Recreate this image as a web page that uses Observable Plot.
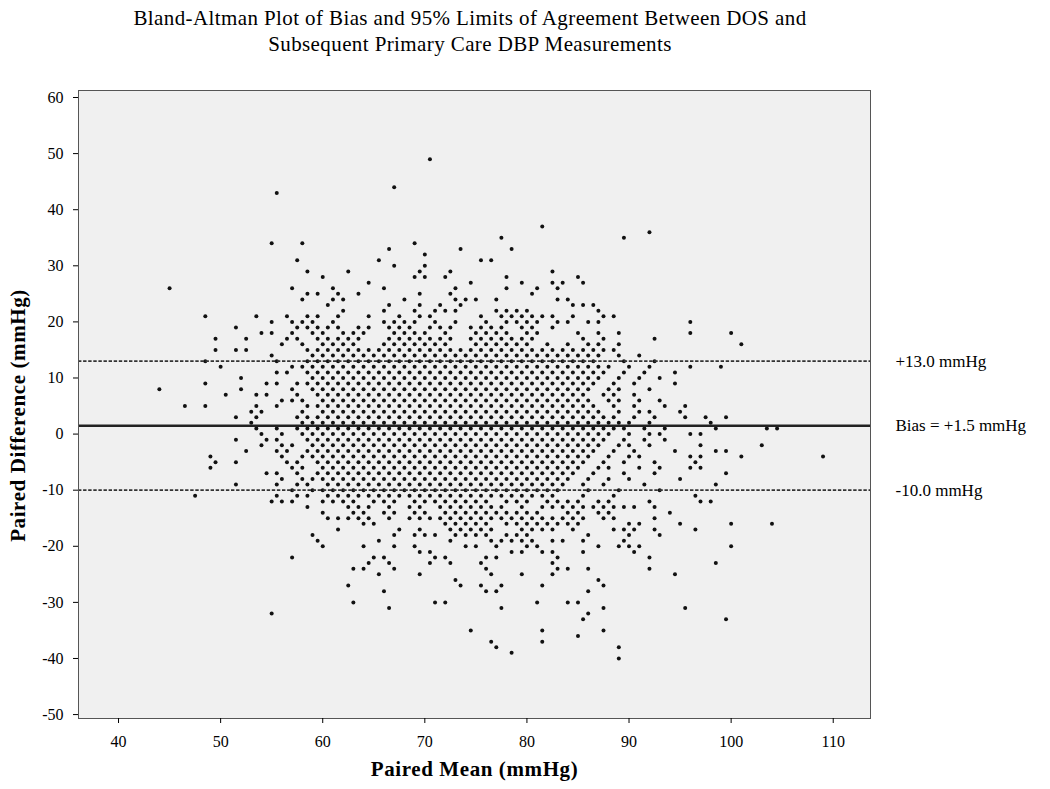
<!DOCTYPE html>
<html><head><meta charset="utf-8">
<script src="https://cdn.jsdelivr.net/npm/d3@7"></script>
<script src="https://cdn.jsdelivr.net/npm/@observablehq/plot@0.6"></script>
<style>
body{margin:0;background:#fff;}
#wrap{position:relative;width:1050px;height:789px;overflow:hidden;}
#title{position:absolute;left:0;top:0;width:940px;text-align:center;font-family:"Liberation Serif","Times New Roman",serif;font-size:21px;letter-spacing:0.4px;line-height:26px;color:#000;padding-top:5px;}
#chart{position:absolute;left:0;top:70px;}
</style></head><body>
<div id="wrap">
<div id="title">Bland-Altman Plot of Bias and 95% Limits of Agreement Between DOS and<br>Subsequent Primary Care DBP Measurements</div>
<div id="chart"></div>
</div>
<script>
// Tick values
const xTicks = [40, 50, 60, 70, 80, 90, 100, 110];
const yTicks = [60, 50, 40, 30, 20, 10, 0, -10, -20, -30, -40, -50];
// Reference lines
const limitValues = [13.0, 1.5, -10.0];
const limitLabels = ["+13.0 mmHg", "Bias = +1.5 mmHg", "-10.0 mmHg"];
// Paired difference of each row of dots (mmHg)
const rowDiff = [49,48,47,46,45,44,43,42,41,40,39,38,37,36,35,34,33,32,31,30,
  29,28,27,26,25,24,23,22,21,20,19,18,17,16,15,14,13,12,11,10,9,8,7,6,5,4,3,2,1,0,
  -1,-2,-3,-4,-5,-6,-7,-8,-9,-10,-11,-12,-13,-14,-15,-16,-17,-18,-19,-20,
  -21,-22,-23,-24,-25,-26,-27,-28,-29,-30,-31,-32,-33,-34,-35,-36,-37,-38,-39,-40];
// For each row: "#" marks a dot at paired mean 40,41,42,... (+0.5 when the difference is odd)
const rowMask = [
".......... .......... .......... #",
"", "", "", "",
".......... .......... .......#",
".......... .....#",
"", "", "", "", "",
".......... .......... .......... .......... .#",
".......... .......... .......... .......... .......... ..#",
".......... .......... .......... .......#.. .........#",
".......... .....#..#. .........#",
".......... .......... ......#... ...#....#.",
".......... .......... .......... #",
".......... .......#.. .....#.... .....##",
".......... .......... .......#.. #",
".......... ........#. ..#......# ..#....... ..#",
".......... .......... #........# #.#.....#. .....#",
".......... .......... ....#..... ....#....# ..##.#",
".....#.... .......#.. .#....#... ...#....#. .#.#",
".......... ........## .#.#.....# ..#....... #",
".......... ........#. .##.....#. ...###.#.. ...##",
".......... .......... #.....#..# .#.#...... ....###",
".......... .......... ..#...#..# .###...### #......#",
"........#. ...#..#.## .#..#..#.# #....#.### ###.#..##",
".......... .....#.### .#....#### .#.#..#.## ##.##.##.. ......#",
".......... .#.....### ##.##.###. ###.####.# #.#",
".......... ....##.#.# #.###..### #.#..####. ##...#.#.# ......#... #",
".........# ..#...##.# ####..#### ###.###### #....#.#.. ..#",
".......... ......#.#. ####..#### ###..##### #.#.#.##.# .......... .#",
".........# .##.....## ########## ########## #########",
".......... .....#...# ########## ########## ########.# .#",
"........#. .....#..## ########## ########## #######..# ..#",
".......... #......### ########## ########## #########. #.#...#..#",
".......... .....##.## ########## ########## ########.# .#..#",
".......... ..#......# ########## ########## ########.# .#.#",
"........#. ....##.### ########## ########## #######.#. #...#",
"....#..... ..#....#.# ########## ########## #######.## ..#",
".......... #..##..#.# ########## ########## ######.##. #",
".......... ......###. ########## ########## #######.## .#.#",
"......#.#. ...#.#..## ########## ########## #######.#. #..#.#",
".......... ...##...#. ########## ########## ########.# .##..#",
".......... .#.#...### ########## ########## #########. #.#..#.#.#",
".......... ...#....## ########## ########## ########## #.#.....#",
".......... ...#.#.### ########## ########## ########## .#.#....#. ...##",
".......... ....#.#.## ########## ########## #########. #.##..##",
".......... .#..##..## ########## ########## ########.# .#.#",
".......... ....#.##.# ########## ########## ########.# #.#....#.. ...#",
".......... ..#..##.## ########## ########## #######.#. #...#...##",
".........# ......#.## ########## ########## #######.#. ##....##.. .#.......#",
".........# .#....##.# ########## ########## ######.#.# ..#...#",
".........# .......##. ########## ########## ######.##. .#.#..##",
".......... ....##.#.# ########## ########## #####.#..# ..#......#",
".......... ......#.## ########## ########## #####.#.#. #....#",
".......... .#...#.##. ########## ########## ####.#.#.. .#......#",
".......... .......#.# ########## ########## ####..#..# ...#",
".......#.. .....#.##. ########## ########## ###..#..#. ......#",
".......... .....###.. ####.###.# #######.## #.####.##. ..#....##",
".......... ........#. ..###.#.## .#######.# .######### #.#",
".......... .......... #..##.##.# #.######## ##..##.##. ....#",
".......... .......... #####.#.## ########## ######.##. ..#",
".......... .......... ....##.... ..#####.## ######.... ##...#.... #...#",
".......... .......... .#.....#.# ..#####..# ###.#...## #.#...#",
".......... .........# .......#.# ##.####.## #.....#... #..#",
".......... .........# .....#.... ..#...#### #.##.#...#",
".......... .......... #...#..#.# ....##.#.. ##.....#.# ##........ #",
".......... .......... .........# #.......## .##..#.... #",
".......... .......#.. .....##... .##...##.. ...#...... ..#",
".......... .......... ....#.#... #.#..#.... ..#....... ........#",
".......... .......... ...##..#.. ......#... ...##.#... ..#",
".......... .......... .....#...# ......#..# ..#....... ....#",
".......... .......... .......... ...#...... .......#",
".......... .......... ..#....... ...#.#.#.. .#.....#",
".......... .......... ......#... ......##.. ......#",
"",
".......... .......... ...#...... .##....... .#..##",
".......... .......... ......#... .......#.. .......#.. .....#",
".......... .....#.... .......... .......... ......#",
".......... .......... .......... .......... .....#.... .........#",
"",
".......... .......... .......... ....#..... .#.....#",
".......... .......... .......... .......... .....#",
".......... .......... .......... ......#... .#",
".......... .......... .......... .......#.. .........#",
".......... .......... .......... ........#",
".......... .......... .......... .......... .........#"
];

const points = [];
rowDiff.forEach((dv, i) => {
  const mask = (rowMask[i] || "").replace(/ /g, "");
  for (let k = 0; k < mask.length; k++) {
    if (mask[k] === "#") points.push({mean: 40 + k + (Math.abs(dv) % 2 ? 0.5 : 0), diff: dv});
  }
});
const limits = limitValues.map((v, i) => ({v, label: limitLabels[i]}));

const serif = "'Liberation Serif', 'Times New Roman', serif";
const yTitle = "Paired Difference (mmHg)";
const xTitle = "Paired Mean (mmHg)";
const plot = Plot.plot({
  width: 1050, height: 719,
  marginTop: 20, marginBottom: 71, marginLeft: 78, marginRight: 180,
  style: {fontFamily: serif, fontSize: "16px", background: "transparent", color: "#000"},
  x: {domain: [36.08, 113.65]},
  y: {domain: [-50.7, 61.25]},
  marks: [
    Plot.frame({fill: "#f0f0f0", stroke: null}),
    Plot.dot(points, {x: "mean", y: "diff", r: 2, fill: "#111", stroke: null}),
    Plot.ruleY([limits[0], limits[2]], {y: "v", stroke: "#333", strokeWidth: 1.8, strokeDasharray: "3.4,1.7"}),
    Plot.ruleY([limits[1]], {y: "v", stroke: "#222", strokeWidth: 2.4}),
    Plot.frame({stroke: "#555", strokeWidth: 1}),
    Plot.axisX({ticks: xTicks, tickSize: 5, tickPadding: 12, tickFormat: d => String(d), label: null}),
    Plot.axisY({ticks: yTicks, tickSize: 5, tickPadding: 10, tickFormat: d => String(d), label: null}),
    Plot.text(limits, {y: "v", text: "label", frameAnchor: "right", dx: 25, textAnchor: "start", fontSize: 17}),
    Plot.text([yTitle], {frameAnchor: "left", dx: -60, dy: 11, rotate: -90, textAnchor: "middle", fontWeight: "bold", fontSize: 21}),
    Plot.text([xTitle], {frameAnchor: "bottom", dy: 57, textAnchor: "middle", fontWeight: "bold", fontSize: 21})
  ]
});
d3.select(plot).selectAll("text").each(function () {
  const t = this.textContent;
  if (t === yTitle || t === xTitle) this.style.letterSpacing = "0.6px";
});
document.getElementById("chart").appendChild(plot);
</script>
</body></html>
